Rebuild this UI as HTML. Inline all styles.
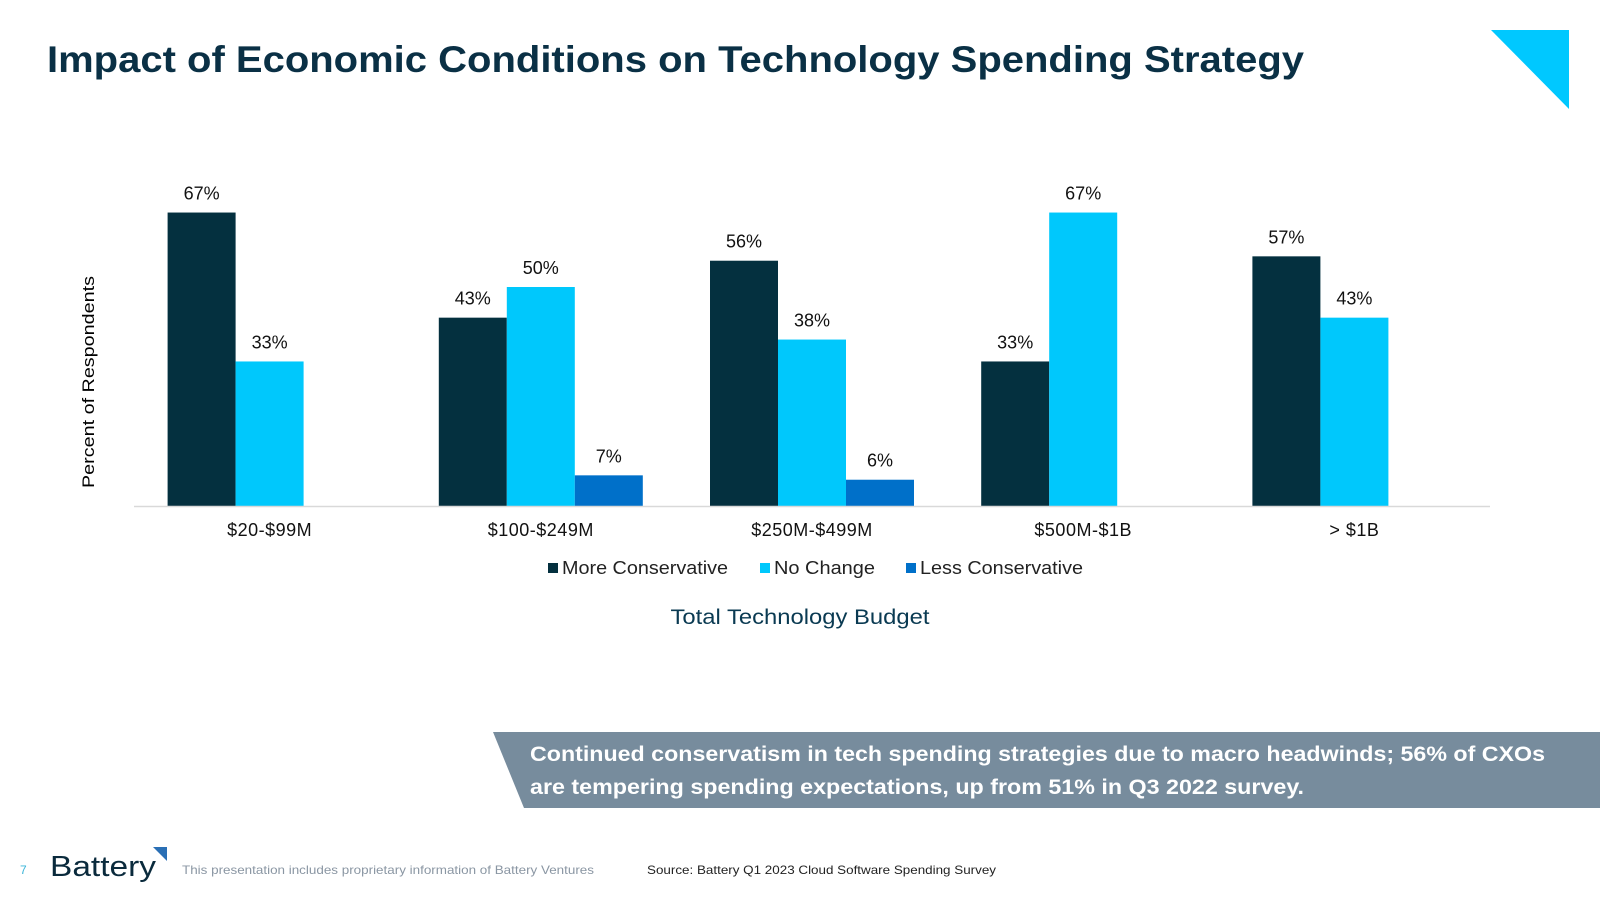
<!DOCTYPE html>
<html><head><meta charset="utf-8"><style>
html,body{margin:0;padding:0;background:#fff;}
body{width:1600px;height:900px;position:relative;overflow:hidden;font-family:"Liberation Sans",sans-serif;}
</style></head><body>
<svg width="1600" height="900" viewBox="0 0 1600 900" xmlns="http://www.w3.org/2000/svg">
<text x="47" y="72" font-size="37" font-weight="bold" fill="#0a3045" textLength="1257" lengthAdjust="spacingAndGlyphs">Impact of Economic Conditions on Technology Spending Strategy</text>
<polygon points="1491,30 1569,30 1569,109" fill="#00c8ff"/>
<g id="chart"></g>
<line x1="134" y1="506.5" x2="1490" y2="506.5" stroke="#d9d9d9" stroke-width="1.5"/>
<text transform="translate(94,382) rotate(-90)" text-anchor="middle" font-size="17" fill="#000" textLength="212" lengthAdjust="spacingAndGlyphs">Percent of Respondents</text>
<g font-size="18" fill="#222">
<g><rect x="548" y="563" width="10" height="10" fill="#04303f"/><text x="562" y="574" textLength="166" lengthAdjust="spacingAndGlyphs">More Conservative</text></g>
<g><rect x="760" y="563" width="10" height="10" fill="#00c8fc"/><text x="774" y="574" textLength="101" lengthAdjust="spacingAndGlyphs">No Change</text></g>
<g><rect x="906" y="563" width="10" height="10" fill="#0070c9"/><text x="920" y="574" textLength="163" lengthAdjust="spacingAndGlyphs">Less Conservative</text></g>
</g>
<text x="800" y="624" text-anchor="middle" font-size="21" fill="#0a3a52" textLength="259" lengthAdjust="spacingAndGlyphs">Total Technology Budget</text>
<polygon points="493,732 1600,732 1600,808 524,808" fill="#778c9d"/>
<text font-size="21" font-weight="bold" fill="#fff"><tspan x="530" y="761" textLength="1015" lengthAdjust="spacingAndGlyphs">Continued conservatism in tech spending strategies due to macro headwinds; 56% of CXOs</tspan><tspan x="530" y="794" textLength="774" lengthAdjust="spacingAndGlyphs">are tempering spending expectations, up from 51% in Q3 2022 survey.</tspan></text>
<text x="20" y="874" font-size="12" fill="#3ab4d8">7</text>
<text x="50" y="876" font-size="29" fill="#0a2a3c" textLength="106" lengthAdjust="spacingAndGlyphs">Battery</text>
<polygon points="153,847 167,847 167,861" fill="#2a6fb5"/>
<text x="182" y="874" font-size="12" fill="#8a96a3" textLength="412" lengthAdjust="spacingAndGlyphs">This presentation includes proprietary information of Battery Ventures</text>
<text x="647" y="874" font-size="12" fill="#222" textLength="349" lengthAdjust="spacingAndGlyphs">Source: Battery Q1 2023 Cloud Software Spending Survey</text>
</svg>
<script>
const categories = ["$20-$99M","$100-$249M","$250M-$499M","$500M-$1B","> $1B"];
const moreConservative = [67,43,56,33,57];
const noChange = [33,50,38,67,43];
const lessConservative = [null,7,6,null,null];
const series = [moreConservative, noChange, lessConservative];
const seriesNames = ["more-conservative","no-change","less-conservative"];
const colors = ["#04303f","#00c8fc","#0070c9"];
const NS="http://www.w3.org/2000/svg";
const g=document.getElementById('chart');
const left=134, right=1490, base=506, pxPer=4.38;
const band=(right-left)/categories.length;
const bw=68;
function xCenter(i){return left+band*(i+0.5);}
function yScale(v){return base-v*pxPer;}
categories.forEach((c,i)=>{
  const cx=xCenter(i);
  const t=document.createElementNS(NS,'text');
  t.setAttribute('x',cx);t.setAttribute('y',536);t.setAttribute('text-anchor','middle');
  t.setAttribute('font-size','18');t.setAttribute('letter-spacing','0.5');t.setAttribute('fill','#111');t.textContent=c;
  
  
  g.appendChild(t);
  series.forEach((s,k)=>{
    const v=s[i]; if(v==null) return;
    const x=cx-1.5*bw+k*bw;
    const r=document.createElementNS(NS,'rect');
    r.setAttribute('x',x);r.setAttribute('y',yScale(v));r.setAttribute('width',bw);
    r.setAttribute('height',base-yScale(v));r.setAttribute('fill',colors[k]);
    
    
    g.appendChild(r);
    const l=document.createElementNS(NS,'text');
    l.setAttribute('x',x+bw/2);l.setAttribute('y',yScale(v)-13);l.setAttribute('text-anchor','middle');
    l.setAttribute('font-size','18');l.setAttribute('fill','#111');l.textContent=v+'%';
    
    
    g.appendChild(l);
  });
});
</script>
</body></html>
